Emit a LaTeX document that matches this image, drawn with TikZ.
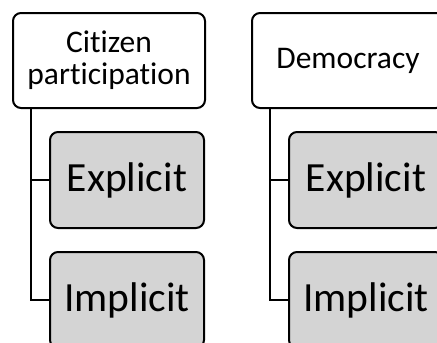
\documentclass[tikz,border=0pt]{standalone}
\usepackage{fontspec}
\setmainfont{Carlito}[RawFeature=-liga]
\usetikzlibrary{math}
\definecolor{boxgray}{RGB}{212,212,212}

\begin{document}
\begin{tikzpicture}[x=1pt,y=1pt,
    topbox/.style={draw=black, line width=2pt, rounded corners=8pt, fill=white,
      minimum width=192pt, minimum height=95pt, inner sep=0pt, align=center,
      font=\fontsize{31.5}{32}\selectfont},
    subbox/.style={draw=black, line width=2pt, rounded corners=8pt, fill=boxgray,
      minimum width=154pt, minimum height=96pt, inner sep=0pt,
      font=\fontsize{41.5}{41.5}\selectfont},
    link/.style={line width=2pt}]
      \tikzmath{\gap = 19; \ya = -60.5; \yb = -180; \yc = -300;}
      \clip (0,0) rectangle (437,-343);
      % left tree
      \node[topbox] (cit) at (109,\ya) {Citizen\\participation};
      \node[subbox] (exp1) at (127,\yb) {Explicit};
      \node[subbox] (imp1) at (127,\yc) {Implicit};
      \draw[link] ([xshift=\gap]cit.south west) |- (exp1.west);
      \draw[link] ([xshift=\gap]cit.south west) |- (imp1.west);
      % right tree
      \node[topbox] (dem) at (348,\ya) {Democracy};
      \node[subbox] (exp2) at (366,\yb) {Explicit};
      \node[subbox] (imp2) at (366,\yc) {Implicit};
      \draw[link] ([xshift=\gap]dem.south west) |- (exp2.west);
      \draw[link] ([xshift=\gap]dem.south west) |- (imp2.west);
    \end{tikzpicture}
\end{document}
